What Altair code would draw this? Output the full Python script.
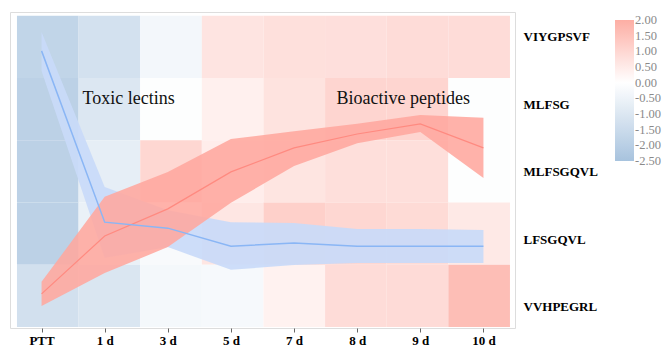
import altair as alt
import pandas as pd

cols = ["PTT", "1 d", "3 d", "5 d", "7 d", "8 d", "9 d", "10 d"]
rows = ["VIYGPSVF", "MLFSG", "MLFSGQVL", "LFSGQVL", "VVHPEGRL"]

heat_viygpsvf = [-1.76, -1.25, -0.34, 0.67, 0.77, 0.78, 0.86, 0.86]
heat_mlfsg = [-1.9, -1.0, -0.05, 0.37, 0.7, 1.04, 1.04, -0.05]
heat_mlfsgqvl = [-1.9, -0.7, 1.0, 0.45, 0.65, 0.8, 0.8, -0.05]
heat_lfsgqvl = [-1.9, -0.6, -0.2, 0.62, 1.16, 1.0, 0.9, 0.54]
heat_vvhpegrl = [-1.28, -1.06, -0.3, -0.25, 0.32, 0.86, 0.88, 1.6]
heat_rows = [heat_viygpsvf, heat_mlfsg, heat_mlfsgqvl, heat_lfsgqvl, heat_vvhpegrl]

toxic_mean = [8.77, 3.35, 3.16, 2.59, 2.69, 2.59, 2.59, 2.59]
toxic_high = [9.37, 4.46, 3.73, 3.35, 3.32, 3.13, 3.13, 3.10]
toxic_low = [8.13, 2.22, 2.56, 1.84, 1.99, 2.06, 2.06, 2.06]

bio_mean = [1.08, 2.91, 3.77, 4.94, 5.70, 6.14, 6.46, 5.70]
bio_high = [1.46, 4.15, 4.94, 5.98, 6.23, 6.46, 6.74, 6.65]
bio_low = [0.70, 1.74, 2.56, 3.96, 5.13, 5.85, 6.20, 4.75]

legend_ticks = [2.0, 1.5, 1.0, 0.5, 0.0, -0.5, -1.0, -1.5, -2.0, -2.5]

annotations = ["Toxic lectins", "Bioactive peptides"]
annot_x = ["1 d", "9 d"]
annot_y = [7.25, 7.25]
annot_dx = [24, -17]

FONT = "Liberation Serif"

heat_df = pd.DataFrame(
    [{"row": r, "col": c, "value": v}
     for r, vals in zip(rows, heat_rows) for c, v in zip(cols, vals)]
)
toxic_df = pd.DataFrame({"col": cols, "mean": toxic_mean, "low": toxic_low, "high": toxic_high})
bio_df = pd.DataFrame({"col": cols, "mean": bio_mean, "low": bio_low, "high": bio_high})
annot_df = pd.DataFrame({"text": annotations, "col": annot_x, "y": annot_y, "dx": annot_dx})
label_df = pd.DataFrame({"row": rows})

W, H = 505, 316

heat = alt.Chart(heat_df).mark_rect().encode(
    x=alt.X("col:N", sort=cols, axis=None,
            scale=alt.Scale(paddingInner=0, paddingOuter=0.0974, align=0.58)),
    y=alt.Y("row:N", sort=rows, axis=None,
            scale=alt.Scale(paddingInner=0, paddingOuter=0.0377, align=0.79)),
    color=alt.Color(
        "value:Q",
        scale=alt.Scale(domain=[-2.502, 0, 2.002], range=["#a7c3de", "#ffffff", "#fdaea4"],
                        interpolate="rgb"),
        legend=alt.Legend(
            title=None, orient="none", legendX=605, legendY=8, direction="vertical",
            gradientLength=141, gradientThickness=19, gradientStrokeWidth=0,
            values=legend_ticks, format=".2f", labelFont=FONT, labelFontSize=12.5,
            labelColor="#8a8a8a", labelOffset=1, labelOverlap=False,
            labelExpr="replace(datum.label, '\u2212', '-')",
        ),
    ),
)

xs = alt.Scale(type="point", domain=cols, padding=0.5)
ys = alt.Scale(domain=[0, 10], nice=False, zero=False)

xaxis = alt.Axis(title=None, labelAngle=0, labelFont=FONT, labelFontSize=13,
                 labelFontWeight="bold", labelColor="#000000", domain=False,
                 grid=False, ticks=True, tickSize=4, tickColor="#666666",
                 labelPadding=2)

def band(df, color, opacity):
    return alt.Chart(df).mark_area(color=color, opacity=opacity).encode(
        x=alt.X("col:N", sort=cols, scale=xs, axis=xaxis),
        y=alt.Y("low:Q", scale=ys, axis=None),
        y2="high:Q",
    )

def line(df, color, width):
    return alt.Chart(df).mark_line(color=color, strokeWidth=width).encode(
        x=alt.X("col:N", sort=cols, scale=xs, axis=xaxis),
        y=alt.Y("mean:Q", scale=ys, axis=None),
    )

texts = alt.Chart(annot_df).mark_text(font=FONT, fontSize=18, color="#111111",
                                      baseline="middle", align="center").encode(
    x=alt.X("col:N", sort=cols, scale=xs, axis=xaxis),
    y=alt.Y("y:Q", scale=ys, axis=None),
    text="text:N",
    xOffset=alt.XOffset("dx:Q", scale=None),
)

lines_layer = alt.layer(
    band(toxic_df, "#c9daf8", 0.92),
    band(bio_df, "#ffa79e", 0.88),
    line(bio_df, "#ff8a80", 1.2),
    line(toxic_df, "#8ab6f5", 1.5),
    texts,
)

labels = alt.Chart(label_df).mark_point(opacity=0).encode(
    y=alt.Y("row:N", sort=rows,
            scale=alt.Scale(type="point", padding=0.34, align=0.54),
            axis=alt.Axis(orient="right", title=None, labelFont=FONT, labelFontSize=13,
                          labelFontWeight="bold", labelColor="#000000", ticks=False,
                          domain=False, grid=False, labelPadding=8)),
)

chart = alt.layer(heat, labels, lines_layer).resolve_scale(
    x="independent", y="independent"
).properties(
    width=W, height=H, padding={"left": 2, "top": 4, "right": 0, "bottom": 0}
).configure_view(stroke="#808080", strokeWidth=1.2).configure(background="#ffffff")

chart.save("out.html", embed_options={"renderer": "svg", "actions": False})
